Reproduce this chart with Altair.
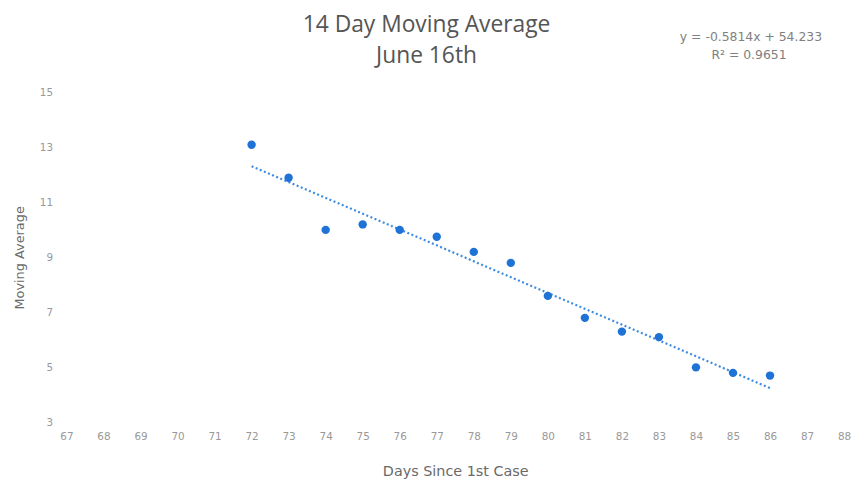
import altair as alt
import pandas as pd

days = [72, 73, 74, 75, 76, 77, 78, 79, 80, 81, 82, 83, 84, 85, 86]
moving_avg = [13.1, 11.9, 10.0, 10.2, 10.0, 9.75, 9.2, 8.8, 7.6, 6.8, 6.3, 6.1, 5.0, 4.8, 4.7]
x_ticks = list(range(67, 89))
y_ticks = [3, 5, 7, 9, 11, 13, 15]
title_lines = ["14 Day Moving Average", "June 16th"]
equation_lines = ["y = -0.5814x + 54.233", "R\u00b2 = 0.9651"]

df = pd.DataFrame({"day": days, "avg": moving_avg})

font = "Open Sans"
afont = "DejaVu Sans"
blue = "#1f72d6"

x_enc = alt.X("day:Q", scale=alt.Scale(domain=[67, 88], nice=False, zero=False),
              axis=alt.Axis(values=x_ticks, title="Days Since 1st Case", domain=False, ticks=False,
                            grid=False, labelPadding=9, titlePadding=23, labelFontSize=10.5,
                            labelOverlap=False, labelFlush=False,
                            labelColor="#999999", titleColor="#6a6a6a", titleFontSize=14.5,
                            titleFontWeight="normal", labelFont=afont, titleFont=afont))
y_enc = alt.Y("avg:Q", scale=alt.Scale(domain=[3, 15], nice=False, zero=False),
              axis=alt.Axis(values=y_ticks, title="Moving Average", domain=False, ticks=False,
                            grid=False, labelPadding=14, titlePadding=13, labelFontSize=10.5,
                            labelOverlap=False, labelFlush=False,
                            labelColor="#999999", titleColor="#6a6a6a", titleFontSize=13,
                            titleFontWeight="normal", labelFont=afont, titleFont=afont))

base = alt.Chart(df)

points = base.mark_point(filled=True, size=72, color=blue, opacity=1).encode(x=x_enc, y=y_enc)

trend = base.transform_regression("day", "avg").mark_line(
    color="#3b8be0", strokeWidth=2.2, strokeDash=[2, 2.5]
).encode(x=x_enc, y=y_enc)

eq1 = alt.Chart(pd.DataFrame({"text": [equation_lines[0]]})).mark_text(
    fontSize=12.5, font=afont, color="#808080", align="center", baseline="middle"
).encode(text="text:N", x=alt.value(691), y=alt.value(-56))
eq2 = alt.Chart(pd.DataFrame({"text": [equation_lines[1]]})).mark_text(
    fontSize=12.5, font=afont, color="#808080", align="center", baseline="middle"
).encode(text="text:N", x=alt.value(689), y=alt.value(-38))

chart = alt.layer(trend, points, eq1, eq2).properties(
    width=785,
    height=333,
    title=alt.TitleParams(text=title_lines[0], subtitle=title_lines[1],
                          fontSize=23, font=font, fontWeight="normal", color="#555555",
                          subtitleFontSize=23, subtitleFont=font, subtitleColor="#555555",
                          subtitlePadding=8,
                          anchor="middle", dx=-29, offset=0, dy=37),
    autosize=alt.AutoSizeParams(type="none"),
    padding={"left": 59, "top": 83, "right": 8, "bottom": 60},
).configure_view(stroke=None)

chart.save("out.html", embed_options={"renderer": "svg", "actions": False})
